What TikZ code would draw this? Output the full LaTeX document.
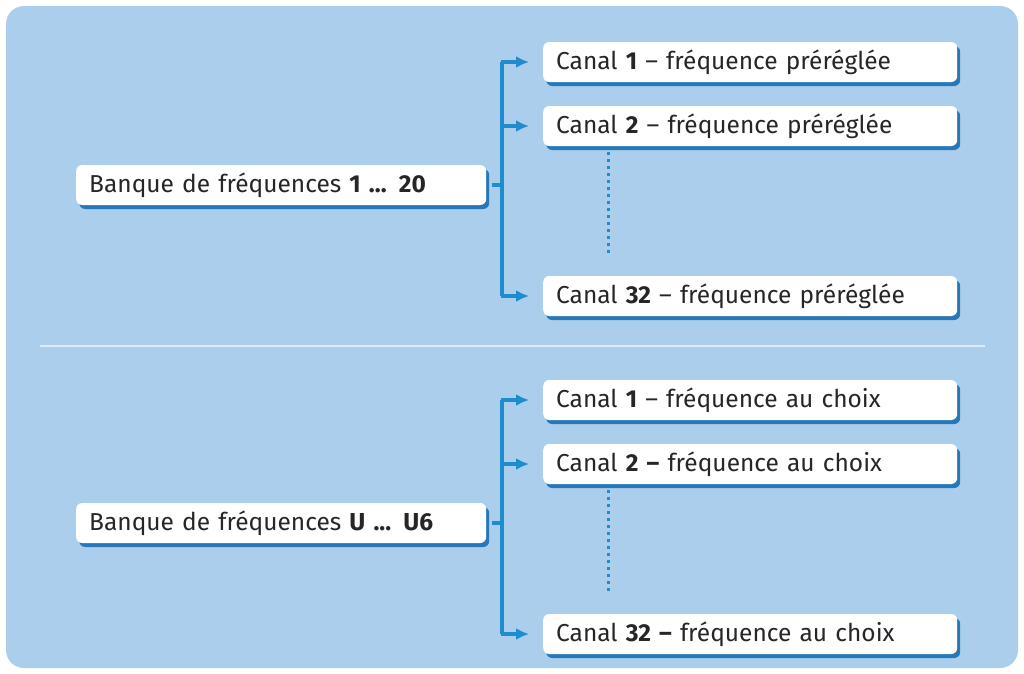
\documentclass[tikz,border=0pt]{standalone}
\usepackage{fontspec}
\setmainfont{Fira Sans}
\begin{document}
\begin{tikzpicture}[x=1pt,y=-1pt,
  box/.style={fill=white,rounded corners=6pt,minimum height=40pt,inner xsep=13pt,anchor=west,font=\fontsize{24.5}{27}\selectfont,text=black!85,
    preaction={fill=shadowc,rounded corners=6pt,transform canvas={xshift=3pt,yshift=-4pt}}},
  con/.style={draw=linec,line width=3.5pt},
  arr/.style={con,-{Latex[length=13pt,width=12pt]}}]
\usetikzlibrary{arrows.meta}
\definecolor{bgc}{RGB}{170,206,236}
\definecolor{linec}{RGB}{30,140,205}
\definecolor{shadowc}{RGB}{40,120,185}
\useasboundingbox (0,0) rectangle (1024,673);
\fill[bgc,rounded corners=18pt] (6,6) rectangle (1018,668);
\draw[white!60!bgc,line width=1.5pt] (40,346) -- (985,346);
\foreach \yo/\lb/\ra/\rb/\rc/\nm in {0/{1 ... 20}/{~– fréquence préréglée}/{~– fréquence préréglée}/{~– fréquence préréglée}/a, 338/{U ... U6}/{~– fréquence au choix}/{\textbf{~–} fréquence au choix}/{\textbf{~–} fréquence au choix}/b}{
  \node[box,minimum width=410pt,text width=384pt] (L\nm) at (76,185+\yo) {Banque de fréquences \textbf{\lb}};
  \node[box,minimum width=414pt,text width=388pt] (A\nm) at (543,62+\yo) {Canal \textbf{1}\ra};
  \node[box,minimum width=414pt,text width=388pt] (B\nm) at (543,126+\yo) {Canal \textbf{2}\rb};
  \node[box,minimum width=414pt,text width=388pt] (C\nm) at (543,296+\yo) {Canal \textbf{32}\rc};
  \coordinate (t\nm) at (502,62+\yo);
  \coordinate (m\nm) at (502,185+\yo);
  \coordinate (u\nm) at (502,296+\yo);
  \draw[con] (L\nm.east) ++(6,0) -- (m\nm);
  \draw[con] (t\nm) -- (u\nm);
  \draw[arr] (501,62+\yo) -- ++(28,0);
  \draw[arr] (501,126+\yo) -- ++(28,0);
  \draw[arr] (501,296+\yo) -- ++(28,0);
  \draw[linec,line width=3pt,dash pattern=on 3pt off 4pt] (608,152+\yo) -- (608,256+\yo);
}
\end{tikzpicture}
\end{document}
